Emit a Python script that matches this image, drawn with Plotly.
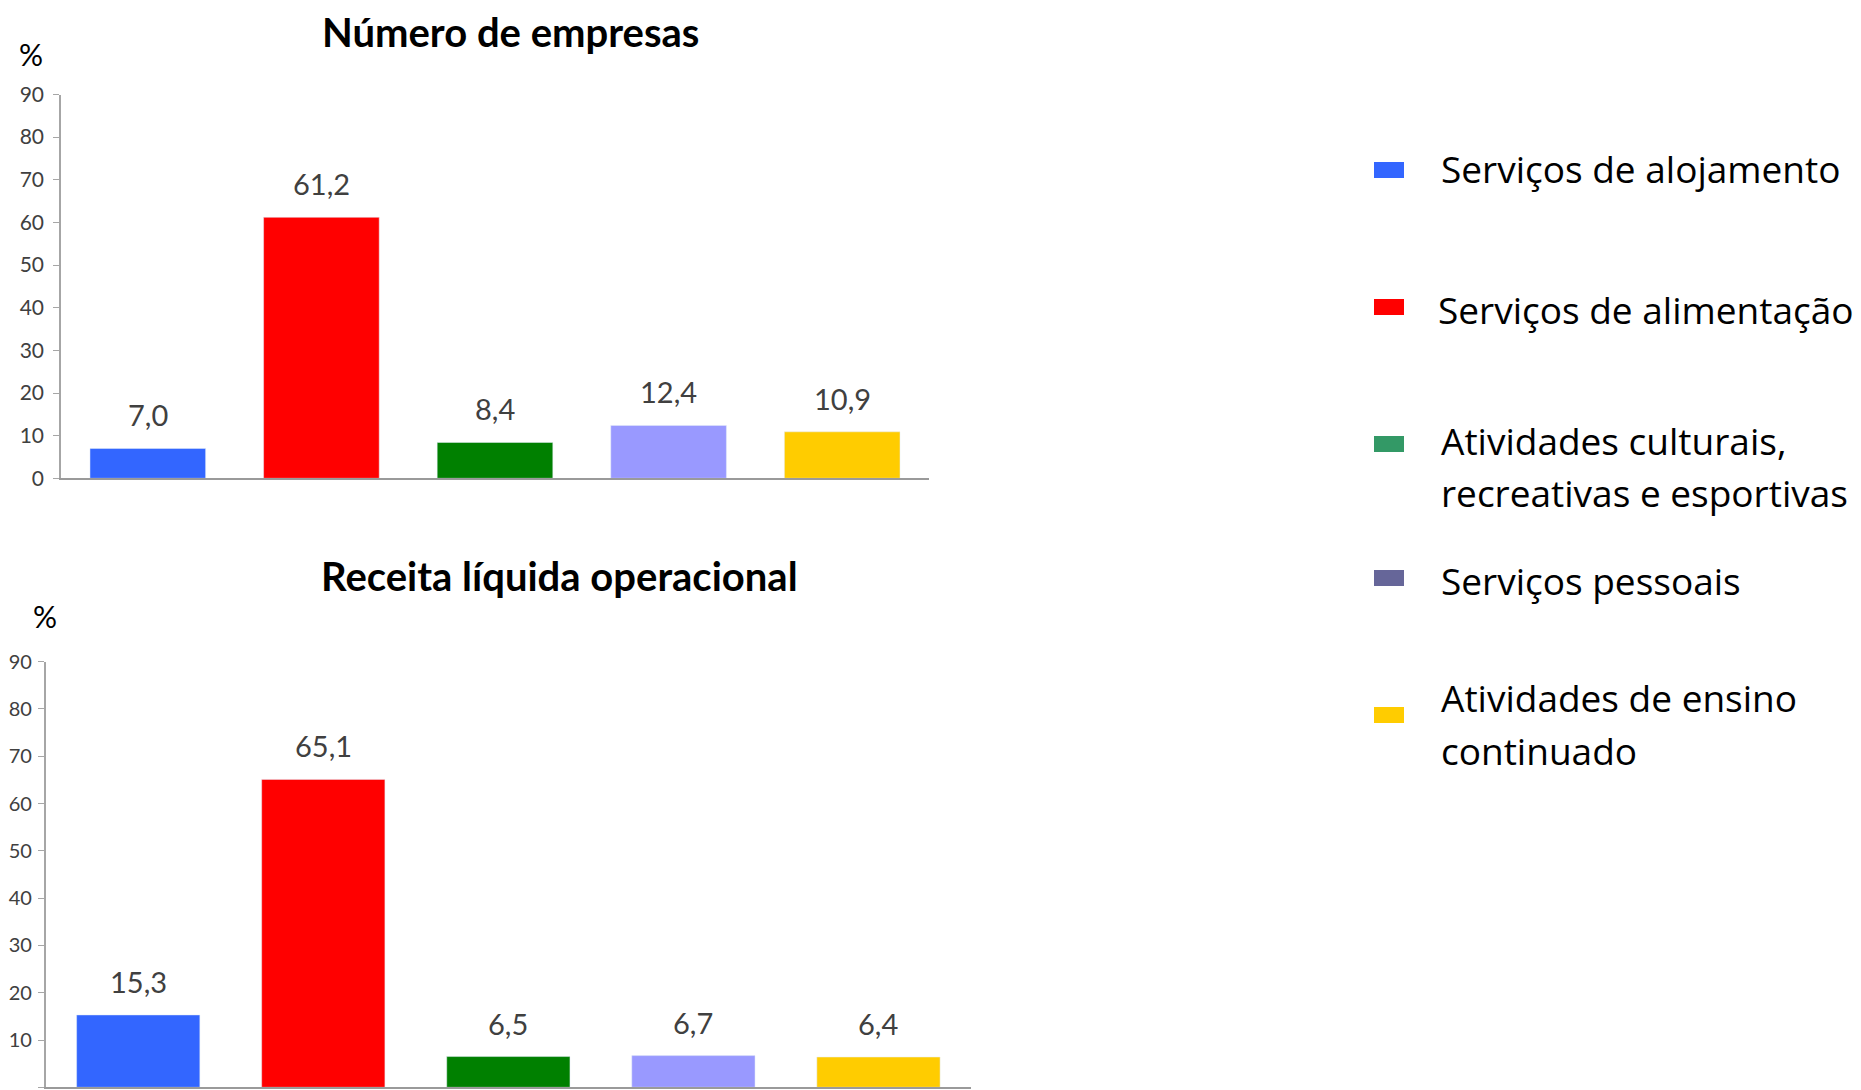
import plotly.graph_objects as go

categorias = ["Serviços de alojamento", "Serviços de alimentação",
              "Atividades culturais, recreativas e esportivas",
              "Serviços pessoais", "Atividades de ensino continuado"]
numero_empresas = [7.0, 61.2, 8.4, 12.4, 10.9]
receita_liquida = [15.3, 65.1, 6.5, 6.7, 6.4]
cores_barras = ["#3366FF", "#FF0000", "#008000", "#9999FF", "#FFCC00"]
cores_legenda = ["#3366FF", "#FF0000", "#339966", "#666699", "#FFCC00"]
legenda_linhas = [["Serviços de alojamento"], ["Serviços de alimentação"],
                  ["Atividades culturais,", "recreativas e esportivas"],
                  ["Serviços pessoais"], ["Atividades de ensino", "continuado"]]
ticks_y = [0, 10, 20, 30, 40, 50, 60, 70, 80, 90]

W, H = 1861, 1090
OFF = 8  # page body margin
FONT = "Lato"


def px_x(p):
    return (p - OFF) / W


def px_y(p):
    return 1 - (p - OFF) / H


fig = go.Figure()
fig.add_trace(go.Bar(x=categorias, y=numero_empresas, marker_color=cores_barras,
                     xaxis="x", yaxis="y", showlegend=False, hoverinfo="y"))
fig.add_trace(go.Bar(x=categorias, y=receita_liquida, marker_color=cores_barras,
                     xaxis="x2", yaxis="y2", showlegend=False, hoverinfo="y"))

axis_y = dict(range=[0, 90], tickvals=ticks_y, showline=True, linecolor="#A6A6A6",
              linewidth=1.5, ticks="outside", ticklen=6, tickcolor="#A6A6A6",
              showgrid=False, zeroline=False)
axis_x = dict(showline=True, linecolor="#9A9A9A", linewidth=2, showticklabels=False,
              ticks="", showgrid=False, zeroline=False)

fig.update_layout(
    width=W, height=H, margin=dict(l=0, r=0, t=0, b=0, autoexpand=False),
    paper_bgcolor="white", plot_bgcolor="white", bargap=0.334,
    xaxis=dict(axis_x, domain=[px_x(61), px_x(929)], anchor="y"),
    yaxis=dict(axis_y, domain=[px_y(478.3), px_y(94.5)], anchor="x", ticklabelstandoff=5,
               tickfont=dict(family=FONT, size=21, color="#404040")),
    xaxis2=dict(axis_x, domain=[px_x(45.7), px_x(971)], anchor="y2"),
    yaxis2=dict(axis_y, domain=[px_y(1087.3), px_y(661.6)], anchor="x2", ticklabelstandoff=2,
                tickfont=dict(family=FONT, size=20, color="#404040")),
)

anns = []
for xa, ya, vals in [("x", "y", numero_empresas), ("x2", "y2", receita_liquida)]:
    for c, v in zip(categorias, vals):
        anns.append(dict(x=c, y=v, xref=xa, yref=ya, text=f"{v:.1f}".replace(".", ","),
                         showarrow=False, yanchor="bottom", yshift=14,
                         font=dict(family=FONT, size=29, color="#404040")))

for txt, cx, cy in [("<b>Número de empresas</b>", 510, 32),
                    ("<b>Receita líquida operacional</b>", 559, 576)]:
    anns.append(dict(x=px_x(cx), y=px_y(cy), xref="paper", yref="paper", text=txt,
                     showarrow=False, xanchor="center", yanchor="middle",
                     font=dict(family=FONT, size=40, color="black")))
for cx, cy in [(31, 54), (45, 616)]:
    anns.append(dict(x=px_x(cx), y=px_y(cy), xref="paper", yref="paper", text="%",
                     showarrow=False, xanchor="center", yanchor="middle",
                     font=dict(family=FONT, size=30, color="black")))

swatch_y = [170, 307, 444, 578, 715]
text_y = [[169], [309], [440, 492], [580], [697, 750]]
text_x = [1442, 1439, 1442, 1442, 1442]
shapes = []
for cor, sy, linhas, ty, tx in zip(cores_legenda, swatch_y, legenda_linhas, text_y, text_x):
    shapes.append(dict(type="rect", xref="paper", yref="paper", x0=px_x(1374), x1=px_x(1404),
                       y0=px_y(sy + 8), y1=px_y(sy - 8), fillcolor=cor, line=dict(width=0)))
    for linha, yy in zip(linhas, ty):
        anns.append(dict(x=px_x(tx - 3), y=px_y(yy), xref="paper", yref="paper", text=linha,
                         showarrow=False, xanchor="left", yanchor="middle",
                         font=dict(family="Open Sans", size=37, color="black")))

fig.update_layout(annotations=anns, shapes=shapes)
fig.write_html("out.html")
